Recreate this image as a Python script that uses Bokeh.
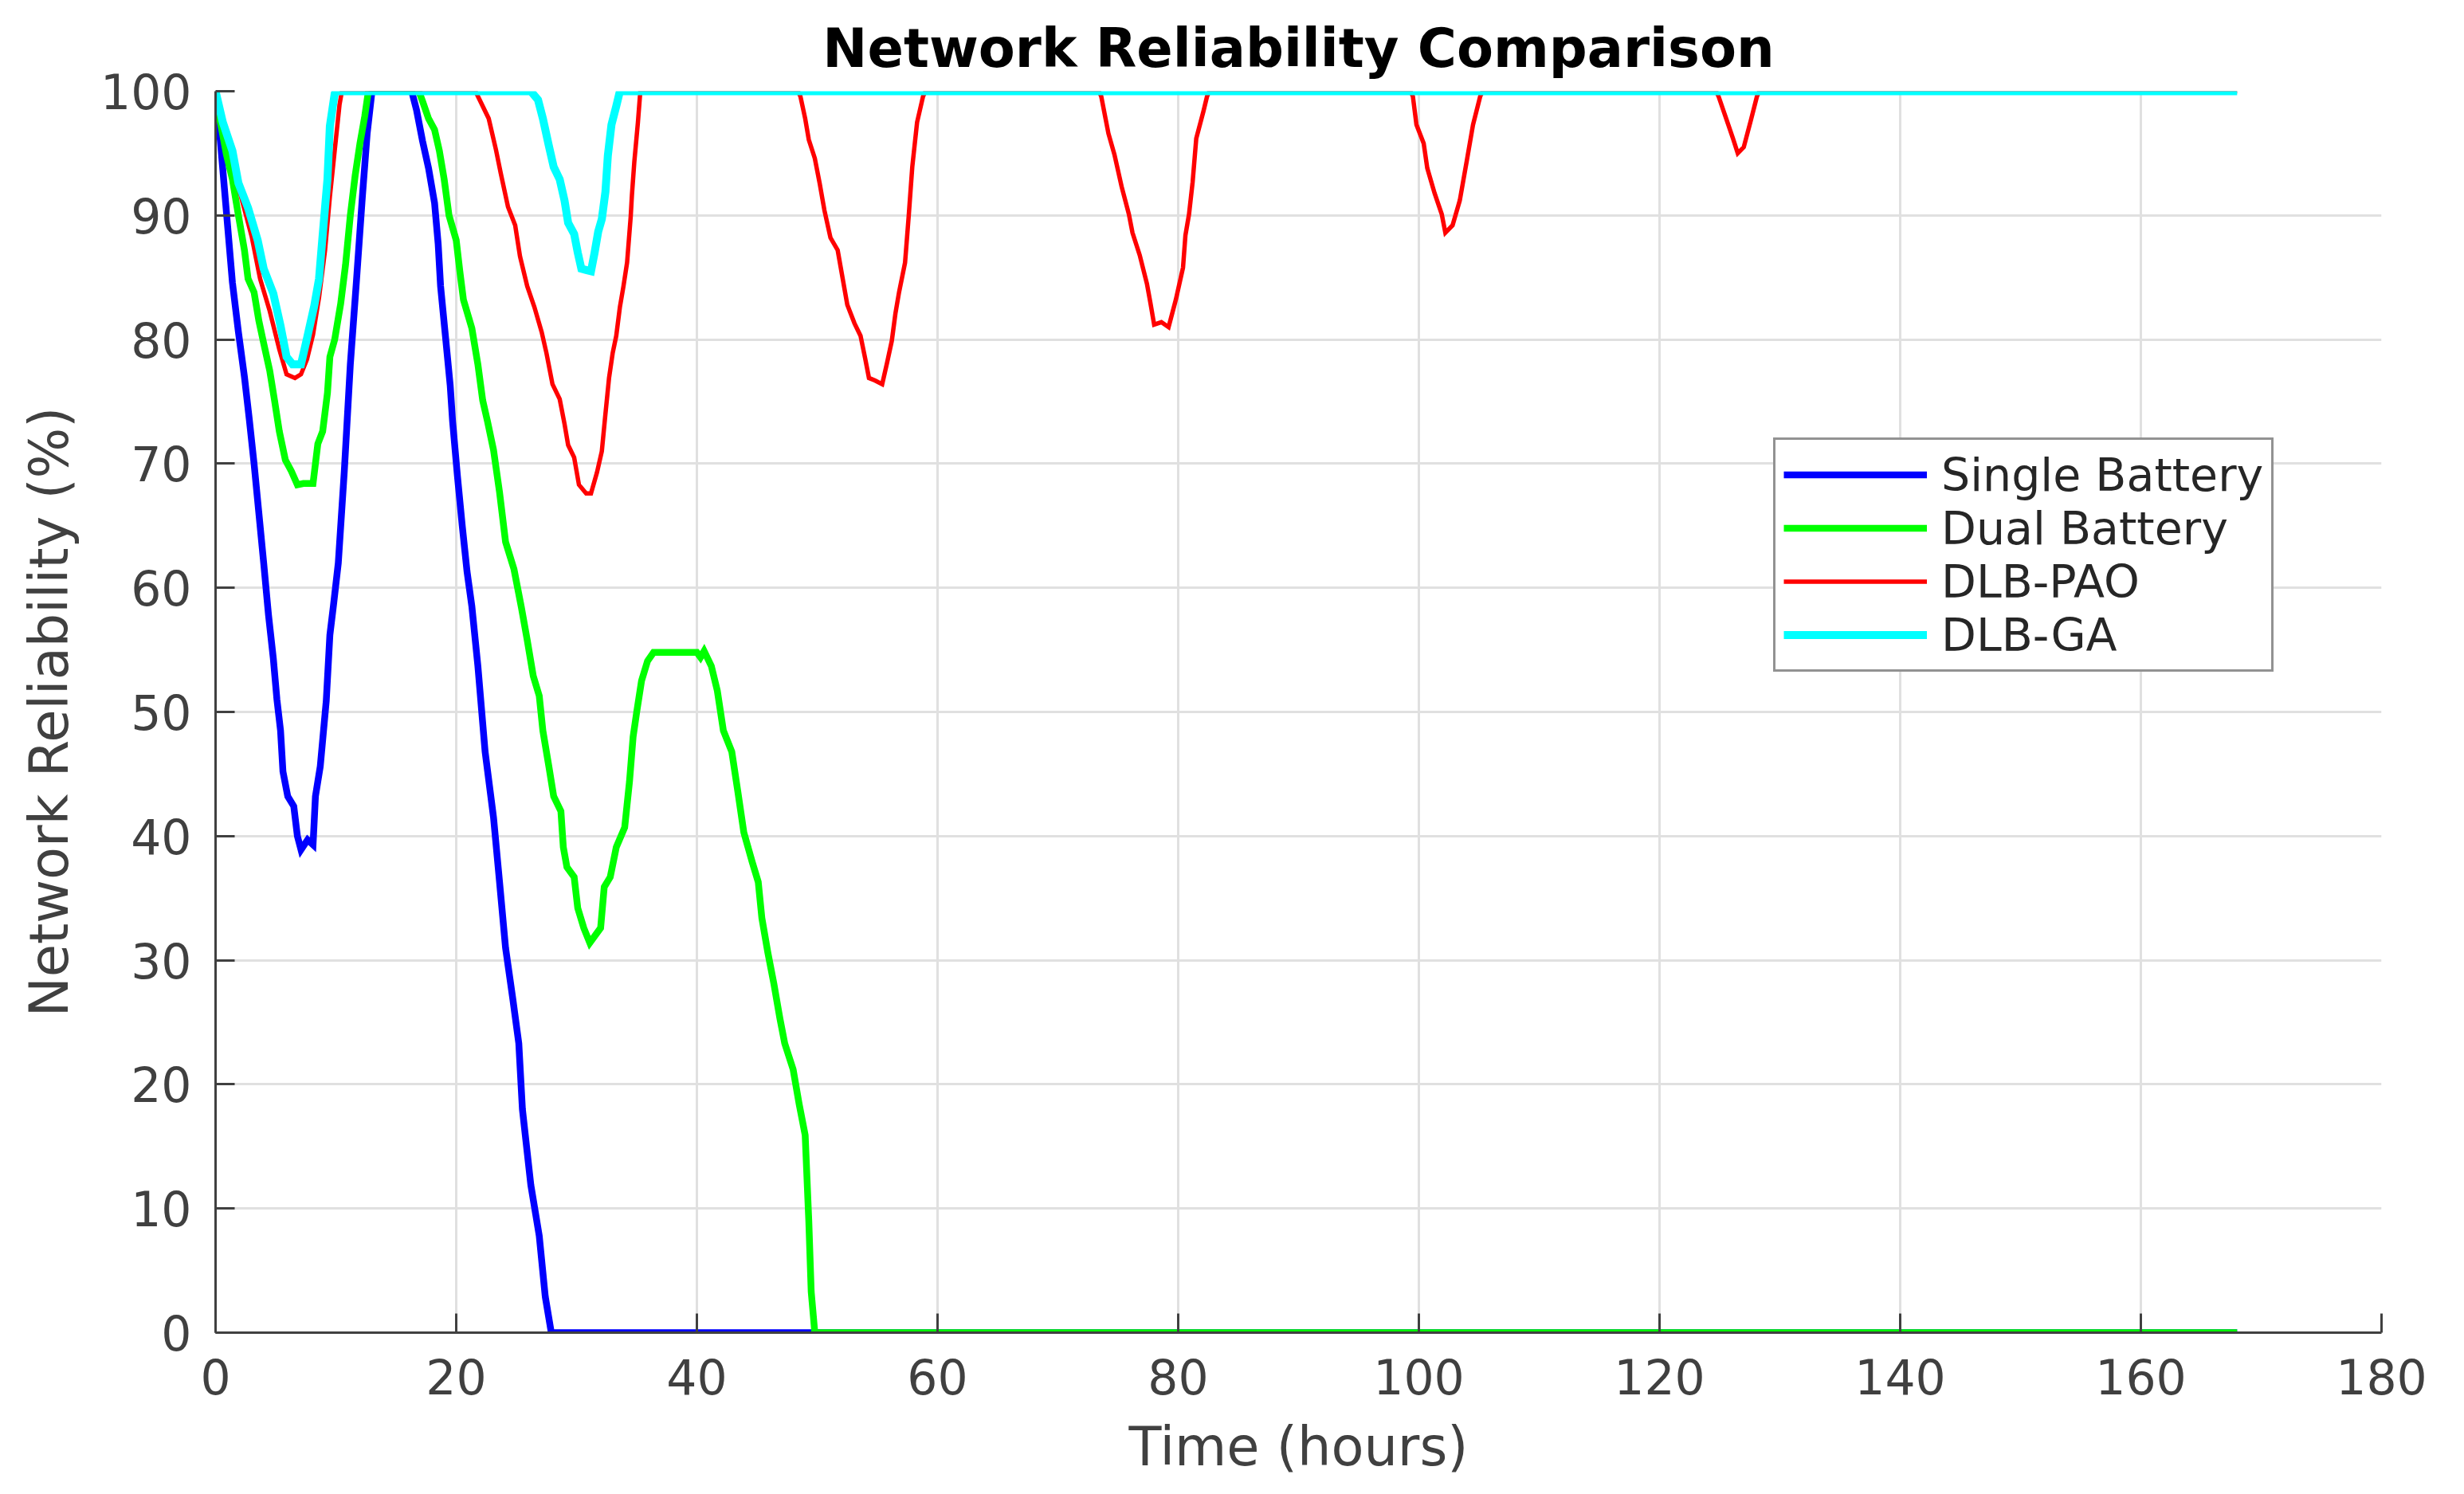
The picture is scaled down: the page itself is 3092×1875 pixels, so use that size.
from bokeh.plotting import figure
from bokeh.models import Range1d, FixedTicker, Legend, LegendItem
from bokeh.embed import file_html
from bokeh.resources import INLINE

# ---------------- data ----------------
x_ticks = [0, 20, 40, 60, 80, 100, 120, 140, 160, 180]
y_ticks = [0, 10, 20, 30, 40, 50, 60, 70, 80, 90, 100]

series_names = ["Single Battery", "Dual Battery", "DLB-PAO", "DLB-GA"]
series_colors = ["#0000ff", "#00ff00", "#ff0000", "#00ffff"]

single_t = [0, 0.4, 0.9, 1.4, 1.9, 2.4, 2.8, 3.2, 3.6, 4.0, 4.4, 4.8, 5.1, 5.4, 5.6,
            6.0, 6.5, 6.8, 7.1, 7.65, 8.1, 8.3, 8.7, 9.2, 9.5, 9.8, 10.2, 10.7, 11.2,
            11.7, 12.2, 12.6, 13.0, 16.3, 16.7, 17.2, 17.7, 18.2, 18.5, 18.7, 19.1,
            19.5, 19.7, 20.1, 20.5, 20.9, 21.3, 21.8, 22.4, 23.1, 23.6, 24.1, 24.7,
            25.2, 25.5, 26.2, 26.9, 27.4, 27.9, 168]
single_v = [100, 96, 90.3, 84.6, 80.6, 77, 73.6, 70, 66, 62, 57.8, 54.3, 51, 48.5, 45.2,
            43.2, 42.4, 40, 38.9, 39.7, 39.3, 43.2, 45.6, 50.9, 56.2, 58.6, 62, 69.4, 78,
            84.6, 91.5, 96.6, 100, 100, 98.5, 96, 93.8, 91, 87.7, 84.3, 80.3,
            76.3, 73.4, 69, 65, 61.3, 58.5, 53.7, 46.8, 41.5, 36.3, 31, 26.9,
            23.3, 18, 11.9, 7.8, 2.9, 0, 0]

dual_t = [0, 0.4, 0.9, 1.4, 1.9, 2.4, 2.7, 3.2, 3.6, 4.0, 4.5, 4.9, 5.3, 5.8, 6.3,
          6.8, 7.3, 8.1, 8.5, 8.9, 9.3, 9.5, 9.9, 10.4, 10.8, 11.2, 11.6, 12.0, 12.4,
          12.7, 16.9, 17.2, 17.7, 18.2, 18.6, 19.0, 19.4, 20.0, 20.3, 20.6, 21.3, 21.8,
          22.2, 22.6, 23.1, 23.6, 24.1, 24.8, 25.4, 25.9, 26.4, 26.9, 27.2, 27.7, 28.1,
          28.7, 28.9, 29.2, 29.8, 30.1, 30.6, 31.1, 32.0, 32.3, 32.8, 33.3, 34.0, 34.4,
          34.7, 35.0, 35.4, 35.9, 36.4, 40.0, 40.3, 40.6, 41.2, 41.7, 42.2, 42.9, 43.4,
          43.9, 44.6, 45.1, 45.4, 45.9, 46.4, 46.9, 47.3, 48.0, 48.5, 49.0, 49.3, 49.5,
          49.8, 168]
dual_v = [100, 97.5, 94.9, 92.9, 90, 87.2, 84.9, 83.8, 81.5, 79.7, 77.5, 75.1, 72.6, 70.3, 69.4,
          68.3, 68.4, 68.4, 71.6, 72.6, 75.7, 78.6, 80, 82.9, 86, 90, 93.2, 95.8, 98,
          100, 100, 99.2, 97.8, 96.9, 95.2, 92.9, 90, 88, 85.5, 83.2, 80.9, 78,
          75.1, 73.4, 71.1, 67.7, 63.7, 61.5, 58.5, 55.8, 52.9, 51.3, 48.5, 45.6, 43.2,
          42, 39.1, 37.5, 36.7, 34.2, 32.6, 31.4, 32.6, 35.9, 36.7, 39.1, 40.7, 44.4,
          48, 50, 52.5, 54.1, 54.8, 54.8, 54.4, 54.9, 53.7, 51.7, 48.5, 46.8, 43.6,
          40.3, 37.9, 36.3, 33.4, 30.6, 28.1, 25.3, 23.3, 21.2, 18.4, 15.9, 9, 3.3,
          0, 0]

pao_t = [0, 0.6, 1.4, 1.9, 3.0, 3.7, 4.5, 5.3, 5.9, 6.6, 7.1, 7.6, 8.1, 8.6, 9.1, 9.5, 9.9, 10.3, 10.5,
         21.6, 21.8, 22.7, 23.3, 23.7, 24.3, 24.9, 25.3, 25.9, 26.5, 27.1, 27.5, 28.0, 28.6, 29.0,
         29.3, 29.8, 30.2, 30.8, 31.2, 31.7, 32.1, 32.4, 32.7, 33.0, 33.3, 33.6, 33.9, 34.2, 34.5,
         34.6, 34.8, 35.1, 35.3,
         48.4, 48.6, 49.0, 49.3, 49.8, 50.2, 50.6, 51.1, 51.7, 52.1, 52.5, 53.1, 53.6, 54.0, 54.3,
         54.8, 55.4, 55.8, 56.2, 56.5, 56.8, 57.3, 57.6, 57.9, 58.3, 58.8, 59.0,
         73.4, 73.6, 74.2, 74.7, 75.3, 75.9, 76.2, 76.8, 77.4, 77.7, 78.0, 78.6, 79.2, 79.8, 80.4,
         80.6, 80.9, 81.2, 81.5, 82.1, 82.4, 82.6,
         99.3, 99.5, 99.8, 100.4, 100.7, 101.3, 101.9, 102.2, 102.8, 103.4, 104.0, 104.5, 105.1, 105.3,
         124.7, 124.9, 125.5, 126.1, 126.5, 127.0, 127.6, 128.1, 128.3, 168]
pao_v = [100, 97.5, 95, 92.3, 88.3, 84.9, 82.3, 79.2, 77.2, 76.9, 77.2, 78.4, 80.4, 83.4, 87.2, 91.5, 95.2, 98.9, 100,
         100, 99.6, 97.8, 95.3, 93.4, 90.7, 89.2, 86.7, 84.3, 82.6, 80.6, 78.9, 76.4, 75.2, 73.2,
         71.5, 70.5, 68.3, 67.6, 67.6, 69.3, 71, 74, 76.9, 78.9, 80.3, 82.6, 84.3, 86.2, 89.9,
         91.6, 94.3, 97.5, 100,
         100, 99.6, 97.8, 96.1, 94.6, 92.6, 90.4, 88.2, 87.2, 85, 82.8, 81.3, 80.3, 78.4, 76.9,
         76.7, 76.4, 78.1, 79.9, 82.1, 83.8, 86.2, 89.9, 93.9, 97.5, 99.6, 100,
         100, 99.6, 96.6, 94.9, 92.3, 90.1, 88.6, 86.8, 84.5, 82.9, 81.2, 81.4, 81, 83.2, 85.8,
         88.4, 90.1, 92.7, 96.2, 98.4, 99.6, 100,
         100, 99.6, 97.3, 95.8, 93.8, 91.8, 90.1, 88.6, 89.2, 91.2, 94.5, 97.3, 99.6, 100,
         100, 99.6, 97.9, 96.2, 95, 95.5, 97.7, 99.6, 100, 100]

ga_t = [0, 0.6, 1.4, 1.9, 2.7, 3.5, 4.0, 4.8, 5.4, 5.9, 6.4, 7.1, 7.6, 8.2, 8.6, 8.9, 9.3, 9.5, 9.9,
        10.0, 26.2, 26.8, 27.2, 27.7, 28.1, 28.6, 29.0, 29.3, 29.8, 30.1, 30.4, 30.8, 31.2, 31.5,
        31.8, 32.1, 32.4, 32.6, 32.9, 33.3, 33.6, 168]
ga_v = [100, 97.5, 95.2, 92.6, 90.6, 88, 85.7, 83.7, 81.1, 78.6, 78, 78, 80.1, 82.7, 84.9, 88.4, 92.9, 97.2, 99.8,
        100, 100, 99.3, 97.8, 95.6, 93.9, 92.9, 91.2, 89.4, 88.5, 87, 85.7, 85.6, 85.5, 87,
        88.7, 89.7, 91.9, 94.8, 97.3, 98.8, 100, 100]

series_t = [single_t, dual_t, pao_t, ga_t]
series_v = [single_v, dual_v, pao_v, ga_v]
series_width = [8.5, 8.5, 5.5, 10]

# ---------------- figure ----------------
FONT = "DejaVu Sans"
TXT = "#404040"

p = figure(width=3076, height=1859, output_backend="svg", toolbar_location=None,
           x_range=Range1d(0, 180), y_range=Range1d(0, 100),
           min_border_left=270, min_border_right=88, min_border_top=114,
           min_border_bottom=187, title="Network Reliability Comparison")

p.title.align = "center"
p.title.text_font = FONT
p.title.text_font_size = "67px"
p.title.text_font_style = "bold"
p.title.text_color = "#000000"
p.title.standoff = 29

p.outline_line_color = None
p.background_fill_color = "white"

p.xaxis.ticker = FixedTicker(ticks=x_ticks)
p.yaxis.ticker = FixedTicker(ticks=y_ticks)
p.xaxis.axis_label = "Time (hours)"
p.yaxis.axis_label = "Network Reliability (%)"

for ax in (p.xaxis[0], p.yaxis[0]):
    ax.axis_line_color = TXT
    ax.axis_line_width = 3
    ax.major_tick_line_color = TXT
    ax.major_tick_line_width = 3
    ax.major_tick_in = 24
    ax.major_tick_out = 0
    ax.minor_tick_line_color = None
    ax.major_label_text_font = FONT
    ax.major_label_text_font_size = "60px"
    ax.major_label_text_color = TXT
    ax.axis_label_text_font = FONT
    ax.axis_label_text_font_size = "67px"
    ax.axis_label_text_font_style = "normal"
    ax.axis_label_text_color = TXT

p.xaxis.major_label_standoff = 32
p.yaxis.major_label_standoff = 30
p.xaxis.axis_label_standoff = 24
p.yaxis.axis_label_standoff = 22

for g in (p.xgrid[0], p.ygrid[0]):
    g.grid_line_color = "#e0e0e0"
    g.grid_line_width = 3

items = []
for name, color, t, v, w in zip(series_names, series_colors, series_t, series_v, series_width):
    r = p.line(t, v, line_color=color, line_width=w, line_join="miter")
    items.append(LegendItem(label=name, renderers=[r]))

legend = Legend(items=items, location=(1955, 829),
                label_text_font=FONT, label_text_font_size="57px",
                label_text_color="#262626",
                glyph_width=180, glyph_height=67, label_height=67,
                spacing=0, padding=10, margin=0, label_standoff=18,
                border_line_color="#262626", border_line_width=3,
                background_fill_color="white", background_fill_alpha=1.0)
p.add_layout(legend)

open("out.html", "w").write(file_html(p, INLINE))
